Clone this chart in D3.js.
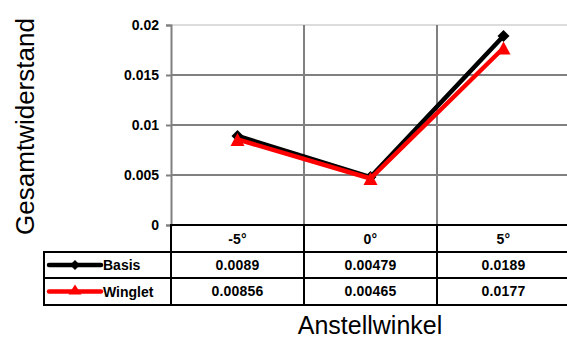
<!DOCTYPE html>
<html><head><meta charset="utf-8">
<script src="https://cdn.jsdelivr.net/npm/d3@7"></script>
<style>
html,body{margin:0;padding:0;background:#fff;}
svg{display:block;}
text{font-family:"Liberation Sans",Arial,sans-serif;}
</style></head>
<body>
<script>
const categories = ["-5°", "0°", "5°"];
const basisValues = [0.0089, 0.00479, 0.0189];
const wingletValues = [0.00856, 0.00465, 0.0177];
const basisLabels = ["0.0089", "0.00479", "0.0189"];
const wingletLabels = ["0.00856", "0.00465", "0.0177"];
const yTicks = [0, 0.005, 0.01, 0.015, 0.02];
const yTickLabels = ["0", "0.005", "0.01", "0.015", "0.02"];
const seriesNames = ["Basis", "Winglet"];

const W = 567, H = 340;
const svg = d3.select("body").append("svg").attr("width", W).attr("height", H);

const x = d3.scaleBand().domain(categories).range([171, 570]);
const y = d3.scaleLinear().domain([0, 0.02]).range([225, 25]);
const grid = "#808080";

// top border of plot area
svg.append("line").attr("x1", 171).attr("x2", W).attr("y1", y(0.02)).attr("y2", y(0.02))
  .attr("stroke", "#dcdcdc").attr("stroke-width", 2);

// horizontal gridlines
svg.selectAll(".hg").data(yTicks.filter(d => d > 0 && d < 0.02)).enter().append("line")
  .attr("x1", 171).attr("x2", W).attr("y1", d => y(d)).attr("y2", d => y(d))
  .attr("stroke", grid).attr("stroke-width", 2);

// vertical gridlines at category boundaries
const bounds = categories.slice(1).map(c => x(c));
svg.selectAll(".vg").data(bounds).enter().append("line")
  .attr("x1", d => d).attr("x2", d => d).attr("y1", y(0.02)).attr("y2", y(0))
  .attr("stroke", grid).attr("stroke-width", 2);

// y axis
const yAxis = d3.axisLeft(y).tickValues(yTicks).tickSize(5).tickPadding(7)
  .tickFormat((d, i) => yTickLabels[i]);
const ga = svg.append("g").attr("transform", "translate(171,0)").call(yAxis);
ga.select(".domain").attr("stroke", grid).attr("stroke-width", 2);
ga.selectAll(".tick line").attr("stroke", grid).attr("stroke-width", 2);
ga.selectAll(".tick text").attr("font-size", "14px").attr("font-weight", "bold")
  .attr("fill", "#000").attr("font-family", "Liberation Sans, Arial, sans-serif").attr("dy", "0.35em");

// table
const tblTop = 225, r1 = 252, r2 = 278, r3 = 305, tblLeft = 44;
const tbl = svg.append("g").attr("stroke", "#000").attr("stroke-width", 2);
tbl.append("line").attr("x1", 170).attr("x2", W).attr("y1", tblTop).attr("y2", tblTop);
[r1, r2, r3].forEach(yy => tbl.append("line").attr("x1", tblLeft - 1).attr("x2", W).attr("y1", yy).attr("y2", yy));
tbl.append("line").attr("x1", tblLeft).attr("x2", tblLeft).attr("y1", r1).attr("y2", r3 + 1);
tbl.append("line").attr("x1", 171).attr("x2", 171).attr("y1", tblTop).attr("y2", r3 + 1);
bounds.forEach(b => tbl.append("line").attr("x1", b).attr("x2", b).attr("y1", tblTop).attr("y2", r3 + 1));

const cell = (t, cx, by) => svg.append("text").attr("x", cx).attr("y", by).attr("text-anchor", "middle")
  .attr("font-size", "14px").attr("font-weight", "bold").attr("letter-spacing", "0.2px").text(t);
categories.forEach((c, i) => {
  const cx = x(c) + x.bandwidth() / 2;
  cell(c, cx, 243.5);
  cell(basisLabels[i], cx, 269.5);
  cell(wingletLabels[i], cx, 296);
});

// markers
function diamond(g, cx, cy, r, fill) {
  g.append("path").attr("d", `M${cx},${cy - r}L${cx + r},${cy}L${cx},${cy + r}L${cx - r},${cy}Z`).attr("fill", fill);
}
function triangle(g, cx, cy, w, h, fill) {
  g.append("path").attr("d", `M${cx},${cy - h / 2}L${cx + w / 2},${cy + h / 2}L${cx - w / 2},${cy + h / 2}Z`).attr("fill", fill);
}

// legend cells
const lg = svg.append("g");
[[r1, r2, "#000"], [r2, r3, "#ff0000"]].forEach(([a, b, col], i) => {
  const cy = (a + b) / 2;
  lg.append("line").attr("x1", 49).attr("x2", 101).attr("y1", cy).attr("y2", cy)
    .attr("stroke", col).attr("stroke-width", 4.5).attr("stroke-linecap", "round");
  if (i === 0) diamond(lg, 75, cy, 5, col); else triangle(lg, 75, cy - 2, 13, 10, col);
  lg.append("text").attr("x", 103).attr("y", cy + 5).attr("font-size", "14px").attr("font-weight", "bold")
    .text(seriesNames[i]);
});

// data lines
const cxOf = c => x(c) + x.bandwidth() / 2;
const line = d3.line().x(d => cxOf(d.c)).y(d => y(d.v));
const basisData = categories.map((c, i) => ({c, v: basisValues[i]}));
const wingData = categories.map((c, i) => ({c, v: wingletValues[i]}));
svg.append("path").datum(basisData).attr("d", line).attr("fill", "none").attr("stroke", "#000")
  .attr("stroke-width", 4.5).attr("stroke-linejoin", "round");
const mg1 = svg.append("g");
basisData.forEach(d => diamond(mg1, cxOf(d.c), y(d.v), 6, "#000"));
svg.append("path").datum(wingData).attr("d", line).attr("fill", "none").attr("stroke", "#ff0000")
  .attr("stroke-width", 4.5).attr("stroke-linejoin", "round");
const mg2 = svg.append("g");
wingData.forEach(d => triangle(mg2, cxOf(d.c), y(d.v), 14, 13, "#ff0000"));

// axis titles
svg.append("text").attr("transform", "translate(33.5,126.5) rotate(-90)").attr("text-anchor", "middle")
  .attr("font-size", "26px").text("Gesamtwiderstand");
svg.append("text").attr("x", 370).attr("y", 334).attr("text-anchor", "middle")
  .attr("font-size", "25px").text("Anstellwinkel");
</script>
</body></html>
